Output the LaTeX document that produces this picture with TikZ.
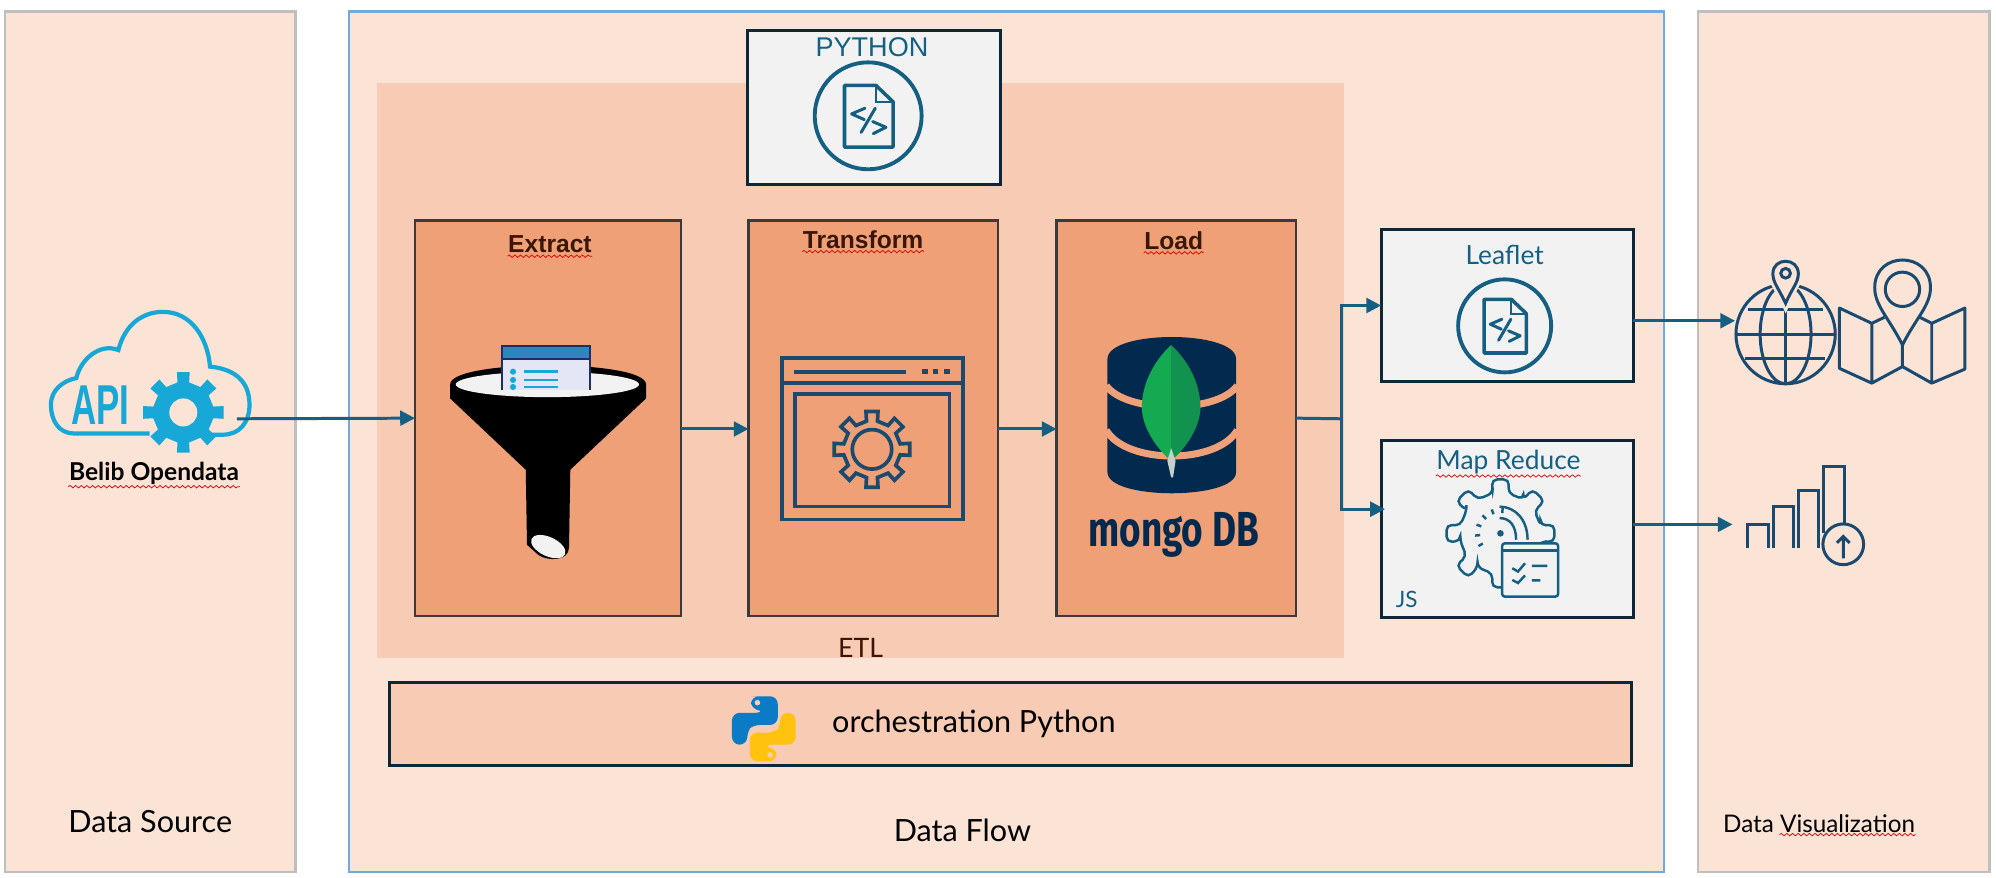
\documentclass[tikz,border=0pt]{standalone}
\usepackage{fontspec}
\setmainfont{Lato}
\newfontfamily\arialfont{Liberation Sans}
\newfontfamily\firafont{Fira Sans}
\usetikzlibrary{%
  arrows.meta,%
  calc,%
  decorations.pathmorphing%
}
\definecolor{panelfill}{HTML}{FBE3D6}
\definecolor{etlfill}{HTML}{F7CBB4}
\definecolor{stagefill}{HTML}{F0A076}
\definecolor{toolfill}{HTML}{F2F2F2}
\definecolor{panelgray}{HTML}{BFBFBF}
\definecolor{panelblue}{HTML}{72A9DE}
\definecolor{toolline}{HTML}{0B2738}
\definecolor{stageline}{HTML}{3A3A3A}
\definecolor{flowblue}{HTML}{156082}
\definecolor{iconblue}{HTML}{1B4A70}
\definecolor{apicyan}{HTML}{17A8D8}
\definecolor{mongonavy}{HTML}{012A4E}
\definecolor{stagetext}{HTML}{3B1606}
\definecolor{leafleft}{HTML}{13AA52}
\definecolor{leafright}{HTML}{12924F}
\definecolor{leafstem}{HTML}{C5D0CC}
\definecolor{sheetfill}{HTML}{E4E6F5}
\definecolor{sheethead}{HTML}{2E86BE}
\definecolor{sheetline}{HTML}{1B2F6E}
\definecolor{snakeblue}{HTML}{0A7BC4}
\definecolor{snakeyellow}{HTML}{FFC20E}
\def\un{0.3622pt}
\tikzset{>={Triangle[length=4.2pt,width=4.2pt]},
  size/.style 2 args = {minimum width=#1*\un, minimum height=#2*\un},
  boxbase/.style = {draw, anchor=north west, inner sep=0pt, outer sep=0pt},
  panel/.style = {boxbase, fill=panelfill, draw=panelgray, line width=0.7pt},
  stage/.style = {boxbase, fill=stagefill, draw=stageline, line width=0.75pt},
  tool/.style = {boxbase, fill=toolfill, draw=toolline, line width=0.85pt},
  flow/.style = {draw=flowblue, line width=0.85pt},
  label/.style = {inner sep=0pt, font=\fontsize{8.7}{10}\selectfont},
  stagelabel/.style = {inner sep=0pt, text=stagetext, font=\arialfont\bfseries\fontsize{7}{8}\selectfont},
  toollabel/.style = {label, text=flowblue, font=\fontsize{7.5}{9}\selectfont},
  squiggle/.style = {draw=red!85!black, line width=0.2pt, decorate,
    decoration={snake, amplitude=0.35pt, segment length=1.6pt}},
  iconline/.style = {draw=iconblue, line width=0.85pt},
  codedoc/.pic = {
    \draw[draw=flowblue, line width=1.1pt] (0,0) circle (42);
    \draw[draw=flowblue, line width=1pt, line join=round]
      (-18.6,-24) -- (6,-24) -- (19.6,-11) -- (19.6,24.5) -- (-18.6,24.5) -- cycle;
    \draw[draw=flowblue, line width=0.6pt] (6,-24) -- (6,-11) -- (19.6,-11);
    \draw[draw=flowblue, line width=0.85pt, line cap=round, line join=round]
      (-2.5,-6) -- (-13,-1.5) -- (-3,3);
    \draw[draw=flowblue, line width=0.85pt, line cap=round] (5.6,-6) -- (-5.5,13);
    \draw[draw=flowblue, line width=0.85pt, line cap=round, line join=round]
      (3.5,4.5) -- (14,9) -- (4,14);
  },
  cog/.pic = {
    \path[pic actions] (-11:24)
      \foreach \a in {0,45,...,315} {
        -- (\a-11:24) -- (\a-9:32) -- (\a+9:32) -- (\a+11:24) -- (\a+34:24)
      } -- cycle;
  },
  snakehalf/.pic = {
    \fill[pic actions, rounded corners=2.2pt]
      (-4,-25.5) -- (11,-25.5) -- (11,-3) -- (-9,-3) -- (-13,1) -- (-13,12.5)
      -- (-25,12.5) -- (-25,-12.5) -- (0,-12.5) -- (0,-15) -- (-10,-15) -- (-10,-25.5) -- cycle;
    \fill[etlfill] (-5,-20.5) circle (2.2);
  }
}

\begin{document}
\begin{tikzpicture}[x=\un,y=-\un]
  \useasboundingbox (0,0) rectangle (1568,689.7);
  % three panels
  \node[panel,size={228}{676}] (source) at (4,9) {};
  \node[panel,size={1033}{676},draw=panelblue] (dataflow) at (274,9) {};
  \node[panel,size={229}{676}] (visual) at (1334,9) {};
  \node[boxbase,draw=none,fill=etlfill,size={760}{452}] (etl) at (296,65) {};
  % boxes
  \node[tool,size={199}{121}] (python) at (587,24) {};
  \node[stage,size={209}{311}] (extract) at (326,173) {};
  \node[stage,size={196}{311}] (transform) at (588,173) {};
  \node[stage,size={188}{311}] (load) at (830,173) {};
  \node[tool,size={198}{120}] (leaflet) at (1085,180) {};
  \node[tool,size={198}{139}] (mapreduce) at (1085,346) {};
  \node[tool,size={976}{65},fill=etlfill] (orchestration) at (306,536) {};

  % labels
  \node[label] (sourcelabel) at (118,645) {Data Source};
  \node[label] (flowlabel) at (756,652) {Data Flow};
  \node[label,font=\fontsize{6.9}{9}\selectfont] (visuallabel) at (1429,647) {Data Visualization};
  \node[label,font=\fontsize{7.6}{9}\selectfont,text=stagetext] (etllabel) at (676,509) {ETL};
  \node[label] (orchlabel) at (765,569) {orchestration Python};
  \node[toollabel,font=\arialfont\fontsize{7.7}{9}\selectfont] (pythonlabel) at (685,37) {PYTHON};
  \node[toollabel] (leafletlabel) at (1182,200) {Leaflet};
  \node[toollabel] (mapreducelabel) at (1185,363) {Map Reduce};
  \node[toollabel,font=\fontsize{6.4}{8}\selectfont] (jslabel) at (1105,471) {JS};
  \node[stagelabel] (extractlabel) at (432,192) {Extract};
  \node[stagelabel] (transformlabel) at (678,188) {Transform};
  \node[stagelabel] (loadlabel) at (922,189) {Load};
  \node[label,font=\bfseries\fontsize{7}{8}\selectfont] (beliblabel) at (121,372) {Belib Opendata};

  % spelling marks
  \draw[squiggle] ($(beliblabel.south west)+(0,1)$) -- ($(beliblabel.south east)+(0,1)$);
  \draw[squiggle] ($(extractlabel.south west)+(0,2)$) -- ($(extractlabel.south east)+(0,2)$);
  \draw[squiggle] ($(transformlabel.south west)+(0,2)$) -- ($(transformlabel.south east)+(0,2)$);
  \draw[squiggle] ($(loadlabel.south west)+(0,2)$) -- ($(loadlabel.south east)+(0,2)$);
  \draw[squiggle] ($(mapreducelabel.south west)+(0,1)$) -- ($(mapreducelabel.south east)+(0,1)$);
  \draw[squiggle] ($(visuallabel.south east)+(-107,1)$) -- ($(visuallabel.south east)+(0,1)$);

  % API cloud
  \draw[apicyan,line width=1.2pt]
    (117.5,340.5) -- (58,340.5) .. controls (46,340.5) and (40,330) .. (40,318)
    .. controls (40,306) and (50,299) .. (60,297)
    .. controls (63,283) and (78,269) .. (93,275)
    .. controls (98,255) and (112,245) .. (128,245)
    .. controls (150,245) and (163,265) .. (165,288)
    .. controls (185,290) and (196,300) .. (196,318)
    .. controls (196,332) and (188,341.5) .. (175,341.5) -- (165,341.5);
  \node[inner sep=0pt,text=apicyan,xscale=0.62,font=\arialfont\bfseries\fontsize{16}{18}\selectfont]
    (apilabel) at (79,318) {API};
  \pic[fill=apicyan] at (144,324) {cog};
  \fill[panelfill] (144,324) circle (11);

  % funnel
  \fill[black] (353.6,302) .. controls (353.6,282) and (507.5,282) .. (507.5,302)
    -- (507.5,313) -- (448,369) -- (447,430) .. controls (447,441) and (430,441) .. (423,436)
    -- (414,428) -- (413,369) -- (353.6,313) -- cycle;
  \fill[toolfill] (430,302) circle[x radius=72, y radius=10];
  \fill[toolfill,rotate around={-25:(430.7,429.4)}] (430.7,429.4) circle[x radius=14.5, y radius=7.5];
  \fill[sheetfill] (394,272) rectangle (463.7,306);
  \fill[sheethead] (394,272) rectangle (463.7,282);
  \draw[sheetline,line width=0.6pt]
    (394.5,306) -- (394.5,272) -- (463.2,272) -- (463.2,306) (394.5,282) -- (463.2,282);
  \foreach \rowy in {292,298.5,304} {
    \fill[apicyan] (403,\rowy) circle (2.4);
    \draw[apicyan,line width=0.8pt] (412,\rowy) -- (438.5,\rowy);
  }

  % window with cog
  \draw[iconline,line width=1.05pt] (614.4,281) rectangle (756.6,408) (614.4,301) -- (756.6,301);
  \draw[iconline,line width=1.05pt] (624.6,309.6) rectangle (746,398);
  \draw[iconline,line width=1.05pt] (624,292) -- (711.6,292);
  \foreach \dotx in {726.5,735,744} {
    \fill[iconblue] (\dotx-2.2,290) rectangle (\dotx+2.2,294);
  }
  \pic[draw=iconblue,line width=1.05pt,scale=0.94] at (685,353) {cog};
  \draw[iconline,line width=1.05pt] (685,353) circle (15.5);

  % database with leaf
  \fill[mongonavy] (870,282) .. controls (870,259) and (971,259) .. (971,282)
    -- (971,371) .. controls (971,393) and (870,393) .. (870,371) -- cycle;
  \draw[stagefill,line width=2pt] (869,303) .. controls (885,325) and (956,325) .. (972,303);
  \draw[stagefill,line width=2pt] (869,338) .. controls (885,365) and (956,365) .. (972,338);
  \fill[leafleft] (920,271)
    .. controls (905,285) and (897,303) .. (897,320)
    .. controls (897,335) and (908,352) .. (920,362) -- cycle;
  \fill[leafright] (920,271)
    .. controls (935,285) and (943,303) .. (943,320)
    .. controls (943,335) and (932,352) .. (920,362) -- cycle;
  \fill[leafstem] (920,352) -- (923.5,362) -- (921.5,375)
    -- (920,375) -- (917,362) -- cycle;
  \node[inner sep=0pt,text=mongonavy,xscale=0.75,font=\firafont\bfseries\fontsize{14}{16}\selectfont]
    (mongolabel) at (922,420) {mongo DB};

  % code files
  \pic at (682,91) {codedoc};
  \pic[scale=0.87] at (1182,256) {codedoc};

  % python logo
  \pic[fill=snakeblue] at (600,572.5) {snakehalf};
  \pic[fill=snakeyellow,rotate=180] at (600,572.5) {snakehalf};

  % gear with checklist
  \pic[draw=flowblue,line width=0.7pt,scale=1.34,rounded corners=1.5pt] at (1178.7,419) {cog};
  \draw[flowblue,line width=0.7pt] (1178,398) .. controls (1190,398) and (1200,408) .. (1200,424);
  \draw[flowblue,line width=0.7pt] (1178,407) .. controls (1186,407) and (1191,413) .. (1191,424);
  \foreach \a in {150,175,200,225,250,275} {
    \draw[flowblue,line width=0.7pt] ($(1178.7,419)+(\a:16)$) -- ($(1178.7,419)+(\a:20)$);
  }
  \fill[flowblue] (1178.7,419) circle (2.6);
  \draw[flowblue,fill=toolfill,line width=0.7pt,rounded corners=0.8pt] (1180,426.8) rectangle (1224,468.7);
  \draw[flowblue,line width=0.7pt] (1180,432.5) -- (1224,432.5);
  \draw[flowblue,line width=0.7pt] (1188,446.4) -- (1192.5,449) -- (1198,442.5) (1203.4,444.6) -- (1215.6,444.6);
  \draw[flowblue,line width=0.7pt] (1188,455.6) -- (1192.5,458) -- (1198,452) (1203.4,456) -- (1210,456);

  % globe and map
  \draw[iconline] (1402.7,262.5) circle (39);
  \draw[iconline] (1402.7,262.5) circle[x radius=20, y radius=39];
  \draw[iconline] (1402.7,238) -- (1402.7,301.5);
  \draw[iconline] (1373,243.5) -- (1432,243.5) (1363.7,262.4) -- (1441.7,262.4) (1371,281.5) -- (1434,281.5);
  \draw[panelfill,line width=2.4pt] (1402.7,238.3)
    .. controls (1397,226) and (1392.7,222) .. (1392.7,215)
    .. controls (1392.7,202) and (1412.7,202) .. (1412.7,215)
    .. controls (1412.7,222) and (1408,226) .. (1402.7,238.3) -- cycle;
  \draw[iconline,fill=panelfill] (1402.7,238.3)
    .. controls (1397,226) and (1392.7,222) .. (1392.7,215)
    .. controls (1392.7,202) and (1412.7,202) .. (1412.7,215)
    .. controls (1412.7,222) and (1408,226) .. (1402.7,238.3) -- cycle;
  \draw[iconline] (1402.7,214.7) circle (3.8);
  \draw[iconline,line join=round]
    (1480.3,249.3) -- (1470.4,254) -- (1445,242) -- (1445,289.4) -- (1470.4,301) -- (1470.4,254)
    (1470.4,301) -- (1494.5,288) -- (1517.5,301) -- (1517.5,254) -- (1508.3,249.3)
    (1517.5,254) -- (1543.5,242) -- (1543.5,290) -- (1517.5,301)
    (1494.5,271) -- (1494.5,288);
  \draw[iconline] (1494.5,271) .. controls (1484,250) and (1472.7,240) .. (1472.7,226)
    .. controls (1472.7,197) and (1516.5,197) .. (1516.5,226)
    .. controls (1516.5,240) and (1505,250) .. (1494.5,271) -- cycle;
  \draw[iconline] (1494.5,227.3) circle (13.5);

  % bars
  \draw[iconline] (1372.8,430.7) |- (1388.9,411.9) -- (1388.9,430.7);
  \draw[iconline] (1393,430.7) |- (1409,398) -- (1409,430.7);
  \draw[iconline] (1413,430.7) |- (1428.7,385) -- (1428.7,430.7);
  \draw[iconline] (1432.6,419) |- (1449,366.6) -- (1449,412);
  \draw[iconline] (1448,427.6) circle (16);
  \draw[iconline] (1448,438.6) -- (1448,421.5) (1443,426.5) -- (1448,421.5) -- (1453,426.5);

  % connectors
  \coordinate (apiout) at (186,329);
  \coordinate (split) at (1054,329);
  \coordinate (globein) at (1363,252);
  \coordinate (barsin) at (1361,412);
  \draw[flow,->] (apiout) -- (extract.west);
  \draw[flow,->] ($(extract.east)+(0,8.5)$) -- ($(transform.west)+(0,8.5)$);
  \draw[flow,->] ($(transform.east)+(0,8.5)$) -- ($(load.west)+(0,8.5)$);
  \draw[flow] (load.east) -- (split);
  \draw[flow,->] (split) |- (leaflet.west);
  \draw[flow,->] (split) |- ($(mapreduce.west)+(3,-15.5)$);
  \draw[flow,->] ($(leaflet.east)+(0,12)$) -- (globein);
  \draw[flow,->] ($(mapreduce.east)+(0,-3.5)$) -- (barsin);
\end{tikzpicture}
\end{document}
